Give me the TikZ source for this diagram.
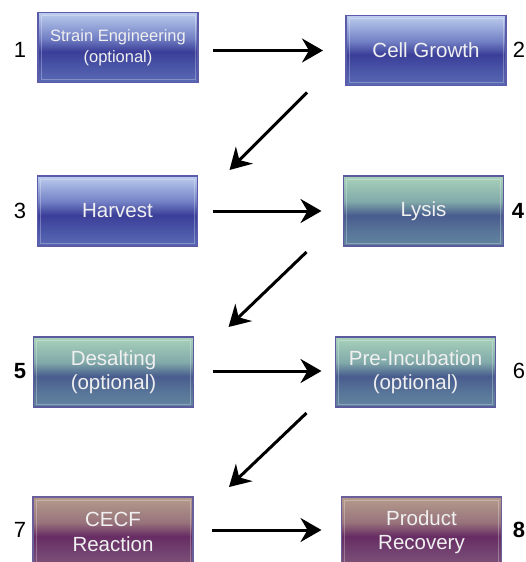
\documentclass[tikz,border=0pt]{standalone}
\usepackage{fontspec}
\setmainfont{Liberation Sans}
\usetikzlibrary{arrows.meta,calc}

\definecolor{bluetop}{HTML}{BCCDEE}
\definecolor{bluemid}{HTML}{7482C6}
\definecolor{bluedark}{HTML}{3B3E98}
\definecolor{bluelow}{HTML}{4A56A8}
\definecolor{bluebot}{HTML}{5A6AB4}
\definecolor{blueborder}{HTML}{5B5BAA}

\definecolor{tealtop}{HTML}{A9D2BA}
\definecolor{tealmid}{HTML}{82AAAA}
\definecolor{tealdark}{HTML}{485C8E}
\definecolor{teallow}{HTML}{587498}
\definecolor{tealbot}{HTML}{6284A0}
\definecolor{tealborder}{HTML}{5A5A9C}

\definecolor{purptop}{HTML}{B59C8C}
\definecolor{purpmid}{HTML}{98747C}
\definecolor{purpdark}{HTML}{672C64}
\definecolor{purplow}{HTML}{724270}
\definecolor{purpbot}{HTML}{7E5478}
\definecolor{purpborder}{HTML}{6A5F9A}

\pgfdeclareverticalshading{blueshade}{100bp}{color(0bp)=(bluebot); color(25bp)=(bluebot); color(36bp)=(bluelow); color(47bp)=(bluedark); color(57bp)=(bluemid); color(75bp)=(bluetop); color(100bp)=(bluetop)}
\pgfdeclareverticalshading{tealshade}{100bp}{color(0bp)=(tealbot); color(25bp)=(tealbot); color(36bp)=(teallow); color(47bp)=(tealdark); color(57bp)=(tealmid); color(75bp)=(tealtop); color(100bp)=(tealtop)}
\pgfdeclareverticalshading{purpshade}{100bp}{color(0bp)=(purpbot); color(25bp)=(purpbot); color(36bp)=(purplow); color(47bp)=(purpdark); color(57bp)=(purpmid); color(75bp)=(purptop); color(100bp)=(purptop)}

\tikzset{
  stepbox/.style={rectangle, minimum width=160pt, minimum height=70pt, inner sep=0pt, outer sep=0pt,
    line width=1.8pt, text=white!94!black, align=center,
    font=\fontsize{20.5}{24}\selectfont,
    path picture={\draw[white,opacity=.28,line width=.7pt]
      ([shift={(3pt,3pt)}]path picture bounding box.south west) rectangle
      ([shift={(-3pt,-3pt)}]path picture bounding box.north east);}},
  bluebox/.style={stepbox, draw=blueborder, shading=blueshade},
  tealbox/.style={stepbox, draw=tealborder, shading=tealshade},
  purpbox/.style={stepbox, draw=purpborder, shading=purpshade},
  num/.style={font=\fontsize{22}{24}\selectfont, text=black, inner sep=0pt},
  arr/.style={line width=3pt, -{Stealth[length=21pt,width=24pt,inset=7pt]}}
}

\begin{document}
\begin{tikzpicture}[x=1pt,y=-1pt]
\clip (0,0) rectangle (525,562);
\fill[white] (0,0) rectangle (525,562);

\node[bluebox, font=\fontsize{16.5}{21}\selectfont] (a1) at (118,47.5) {Strain Engineering\\(optional)};
\node[bluebox] (a2) at (426,50.5) {Cell Growth};
\node[bluebox] (a3) at (117.5,211) {Harvest};
\node[tealbox] (a4) at (423.5,211) {Lysis};
\node[tealbox, font=\fontsize{20.5}{23.5}\selectfont] (a5) at (113.5,372) {Desalting\\(optional)};
\node[tealbox, font=\fontsize{20.5}{23.5}\selectfont] (a6) at (415.5,372) {Pre-Incubation\\(optional)};
\node[purpbox, font=\fontsize{20.5}{24.5}\selectfont] (a7) at (113,532) {CECF\\Reaction};
\node[purpbox, font=\fontsize{20.5}{24.5}\selectfont] (a8) at (421.5,532) {Product\\Recovery};

\node[num] (n1) at (20,50) {1};
\node[num] (n2) at (519,50) {2};
\node[num] (n3) at (20,211) {3};
\node[num, font=\fontsize{22}{24}\selectfont\bfseries] (n4) at (518,211) {4};
\node[num, font=\fontsize{22}{24}\selectfont\bfseries] (n5) at (20,371) {5};
\node[num] (n6) at (519,371) {6};
\node[num] (n7) at (20,530) {7};
\node[num, font=\fontsize{22}{24}\selectfont\bfseries] (n8) at (519,530) {8};

\draw[arr, shorten <=15pt, shorten >=23pt] (a1.east |- a2.west) -- (a2.west);
\draw[arr, shorten <=15pt, shorten >=22pt] (a3.east) -- (a4.west);
\draw[arr, shorten <=19pt, shorten >=14pt] ([yshift=1pt]a5.east) -- ([yshift=1pt]a6.west);
\draw[arr, shorten <=19pt, shorten >=20pt] ([yshift=2pt]a7.east) -- ([yshift=2pt]a8.west);

\draw[arr] ([xshift=-39pt,yshift=-7pt]a2.south west) -- ([xshift=32pt,yshift=6pt]a3.north east);
\draw[arr] ([xshift=-37pt,yshift=-6pt]a4.south west) -- ([xshift=35pt,yshift=10pt]a5.north east);
\draw[arr] ([xshift=-29pt,yshift=-6pt]a6.south west) -- ([xshift=36pt,yshift=10pt]a7.north east);
\end{tikzpicture}
\end{document}
